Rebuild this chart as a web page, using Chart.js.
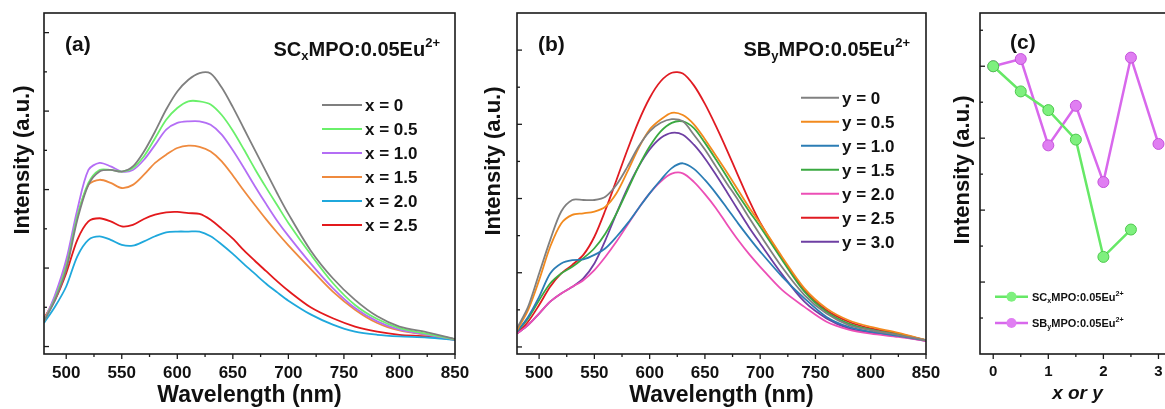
<!DOCTYPE html>
<html>
<head>
<meta charset="utf-8">
<script src="https://cdn.jsdelivr.net/npm/chart.js@4.4.0/dist/chart.umd.min.js"></script>
<style>
  html, body { margin: 0; padding: 0; overflow: hidden; background: #fff; width: 1165px; height: 409px; }
  canvas { position: absolute; top: 0; }
</style>
</head>
<body>
<canvas id="chartA" width="490" height="409" style="left:0"></canvas>
<canvas id="chartB" width="490" height="409" style="left:470px"></canvas>
<canvas id="chartC" width="260" height="409" style="left:940px"></canvas>
<script>
// wavelength grid (nm), shared by (a) and (b)
const wavelength = [480,490,500,510,520,530,540,550,560,570,580,590,600,610,620,630,640,650,660,670,680,690,700,720,740,760,780,800,825,850];

// (a) SCxMPO:0.05Eu2+
const aLabels = ['x = 0', 'x = 0.5', 'x = 1.0', 'x = 1.5', 'x = 2.0', 'x = 2.5'];
const aColors = ['#7f7f7f', '#6af06a', '#b46ef5', '#ef8a3e', '#1fa8dc', '#e3191c'];
const aX0  = [0.64,1.19,1.96,3.23,4.12,4.46,4.5,4.46,4.59,4.97,5.48,6.04,6.5,6.8,6.97,6.96,6.6,6.1,5.55,5.0,4.45,3.9,3.38,2.45,1.74,1.19,0.77,0.51,0.36,0.19];
const aX05 = [0.64,1.23,2.04,3.32,4.17,4.5,4.5,4.46,4.55,4.85,5.31,5.78,6.08,6.25,6.25,6.17,5.9,5.5,5.02,4.52,4.05,3.6,3.15,2.35,1.62,1.06,0.7,0.47,0.32,0.19];
const aX10 = [0.64,1.32,2.21,3.49,4.5,4.68,4.59,4.46,4.5,4.76,5.14,5.53,5.7,5.74,5.74,5.65,5.4,5.0,4.55,4.08,3.63,3.2,2.82,2.12,1.49,0.98,0.64,0.43,0.3,0.19];
const aX15 = [0.68,1.28,2.13,3.32,4.12,4.25,4.17,4.04,4.12,4.38,4.68,4.89,5.06,5.12,5.09,4.97,4.72,4.36,3.97,3.6,3.24,2.9,2.58,1.98,1.4,0.94,0.6,0.41,0.3,0.19];
const aX20 = [0.6,1.02,1.53,2.3,2.72,2.81,2.72,2.59,2.57,2.68,2.81,2.91,2.93,2.93,2.93,2.81,2.6,2.36,2.1,1.85,1.6,1.38,1.17,0.82,0.56,0.38,0.3,0.26,0.23,0.17];
const aX25 = [0.72,1.19,1.87,2.72,3.19,3.27,3.19,3.06,3.1,3.25,3.36,3.42,3.43,3.4,3.38,3.23,3.0,2.75,2.45,2.18,1.92,1.66,1.42,1.0,0.72,0.51,0.38,0.3,0.26,0.17];

// (b) SByMPO:0.05Eu2+
const bLabels = ['y = 0', 'y = 0.5', 'y = 1.0', 'y = 1.5', 'y = 2.0', 'y = 2.5', 'y = 3.0'];
const bColors = ['#808080', '#f28a1e', '#2b7db5', '#3aa940', '#ec4fb6', '#e01b22', '#6e3fa3'];
const bY0  = [0.5,1.08,1.98,2.88,3.65,3.96,3.96,3.96,4.05,4.37,4.86,5.4,5.81,6.04,6.14,6.08,5.72,5.32,4.86,4.4,3.96,3.48,3.02,2.14,1.4,0.9,0.59,0.45,0.32,0.18];
const bY05 = [0.45,0.99,1.8,2.7,3.33,3.56,3.6,3.65,3.78,4.14,4.73,5.36,5.86,6.13,6.31,6.25,6.0,5.6,5.15,4.7,4.23,3.76,3.33,2.42,1.58,1.04,0.72,0.54,0.38,0.18];
const bY10 = [0.41,0.81,1.35,1.98,2.25,2.34,2.36,2.48,2.66,2.97,3.33,3.74,4.14,4.5,4.82,4.95,4.8,4.5,4.14,3.74,3.33,2.94,2.57,1.89,1.31,0.81,0.54,0.41,0.3,0.18];
const bY15 = [0.41,0.77,1.26,1.71,1.98,2.16,2.39,2.66,3.06,3.6,4.23,4.86,5.4,5.81,6.04,6.08,5.9,5.5,5.05,4.58,4.1,3.66,3.24,2.34,1.49,0.95,0.63,0.47,0.34,0.18];
const bY20 = [0.36,0.59,0.9,1.22,1.44,1.62,1.8,2.07,2.43,2.84,3.29,3.74,4.14,4.46,4.67,4.68,4.45,4.12,3.74,3.3,2.88,2.5,2.16,1.53,1.08,0.68,0.47,0.36,0.27,0.16];
const bY25 = [0.36,0.68,1.13,1.62,1.98,2.21,2.48,2.97,3.69,4.5,5.32,6.08,6.71,7.16,7.39,7.37,7.05,6.55,5.95,5.3,4.62,3.95,3.35,2.38,1.53,0.99,0.68,0.5,0.36,0.18];
const bY30 = [0.36,0.59,0.9,1.22,1.44,1.62,1.85,2.25,2.88,3.6,4.28,4.86,5.32,5.63,5.77,5.72,5.45,5.08,4.64,4.17,3.69,3.22,2.79,1.95,1.22,0.77,0.5,0.38,0.29,0.16];

// (c) relative intensity vs x or y
const cXvals = [0, 0.5, 1, 1.5, 2, 2.5];
const cSC = [4.0, 3.65, 3.39, 2.98, 1.35, 1.73];
const cYvals = [0, 0.5, 1, 1.5, 2, 2.5, 3];
const cSB = [4.0, 4.1, 2.9, 3.45, 2.39, 4.12, 2.92];

// tick values
const xTicksAB = [500, 550, 600, 650, 700, 750, 800, 850];
const xMinorAB = [525, 575, 625, 675, 725, 775, 825];
const yMajorAB = [0, 2, 4, 6, 8];
const yMinorAB = [1, 3, 5, 7];
const xTicksC = [0, 1, 2, 3];
const xMinorC = [0.5, 1.5, 2.5];
const yMajorC = [1, 2, 3, 4];
const yMinorC = [0.5, 1.5, 2.5, 3.5, 4.5];

const FONT = "'Liberation Sans', Arial, sans-serif";

// text with _x subscript and ^2+ superscript
function drawRich(ctx, text, x, y, size, align) {
  const segs = [];
  let buf = '';
  for (let i = 0; i < text.length; i++) {
    const c = text[i];
    if (c === '_') {
      if (buf) segs.push({ t: buf, k: 0 });
      buf = '';
      segs.push({ t: text[i + 1], k: 1 });
      i++;
    } else if (c === '^') {
      if (buf) segs.push({ t: buf, k: 0 });
      buf = '';
      segs.push({ t: text.slice(i + 1), k: -1 });
      break;
    } else {
      buf += c;
    }
  }
  if (buf) segs.push({ t: buf, k: 0 });
  let total = 0;
  segs.forEach(s => {
    s.size = s.k ? size * 0.65 : size;
    ctx.font = `bold ${s.size}px ${FONT}`;
    s.w = ctx.measureText(s.t).width;
    total += s.w;
  });
  let cx = align === 'right' ? x - total : x;
  ctx.textAlign = 'left';
  ctx.textBaseline = 'alphabetic';
  segs.forEach(s => {
    ctx.font = `bold ${s.size}px ${FONT}`;
    const dy = s.k === 1 ? size * 0.22 : s.k === -1 ? -size * 0.42 : 0;
    ctx.fillText(s.t, cx, y + dy);
    cx += s.w;
  });
}

// frame, inward/outward ticks, y title, panel tag, heading and legend
const decor = {
  id: 'decor',
  afterDraw(chart, args, o) {
    const { ctx, chartArea: a } = chart;
    const xs = chart.scales.x, ys = chart.scales.y;
    ctx.save();
    ctx.strokeStyle = '#1a1a1a';
    ctx.fillStyle = '#111';
    ctx.lineWidth = 1.6;
    ctx.strokeRect(a.left, a.top, a.right - a.left, a.bottom - a.top);
    ctx.lineWidth = 1.3;
    const seg = (x1, y1, x2, y2) => { ctx.beginPath(); ctx.moveTo(x1, y1); ctx.lineTo(x2, y2); ctx.stroke(); };
    o.xMajor.forEach(v => { const p = xs.getPixelForValue(v); seg(p, a.bottom, p, a.bottom + 5); });
    o.xMinor.forEach(v => { const p = xs.getPixelForValue(v); seg(p, a.bottom, p, a.bottom + 3); });
    o.yMajor.forEach(v => { const p = ys.getPixelForValue(v); seg(a.left, p, a.left + 5, p); });
    o.yMinor.forEach(v => { const p = ys.getPixelForValue(v); seg(a.left, p, a.left + 3, p); });

    // y axis title
    ctx.save();
    ctx.translate(o.yTitleX, o.yTitleY);
    ctx.rotate(-Math.PI / 2);
    ctx.font = `bold 22px ${FONT}`;
    ctx.textAlign = 'center';
    ctx.textBaseline = 'middle';
    ctx.fillText('Intensity (a.u.)', 0, 0);
    ctx.restore();

    // panel tag
    ctx.font = `bold 21px ${FONT}`;
    ctx.textAlign = 'left';
    ctx.textBaseline = 'alphabetic';
    ctx.fillText(o.tag, o.tagX, o.tagY);
    if (o.heading) drawRich(ctx, o.heading, o.headX, o.headY, 20, 'right');

    // legend
    const lg = o.legend;
    chart.data.datasets.forEach((ds, i) => {
      const y = lg.y + i * lg.dy;
      ctx.strokeStyle = ds.borderColor;
      ctx.lineWidth = lg.lw;
      seg(lg.x, y, lg.x + lg.len, y);
      if (lg.marker) {
        ctx.beginPath();
        ctx.arc(lg.x + lg.len / 2, y, 5, 0, Math.PI * 2);
        ctx.fillStyle = ds.pointBackgroundColor;
        ctx.fill();
      }
      ctx.fillStyle = '#111';
      drawRich(ctx, ds.label, lg.x + lg.len + lg.gap, y + lg.size * 0.36, lg.size, 'left');
    });
    ctx.restore();
  }
};

const toPts = (xs, ys) => xs.map((x, i) => ({ x: x, y: ys[i] }));

function spectrumChart(id, labels, colors, series, yMax, padLeft, padRight, deco) {
  return new Chart(document.getElementById(id), {
    type: 'line',
    data: {
      datasets: series.map((s, i) => ({
        label: labels[i],
        data: toPts(wavelength, s),
        borderColor: colors[i],
        borderWidth: 1.8,
        pointRadius: 0,
        fill: false,
        tension: 0.3
      }))
    },
    options: {
      responsive: false,
      animation: false,
      events: [],
      layout: { padding: { left: padLeft, right: padRight, top: 13, bottom: 0 } },
      scales: {
        x: {
          type: 'linear', min: 480, max: 850,
          afterBuildTicks: s => { s.ticks = xTicksAB.map(v => ({ value: v })); },
          afterFit: s => { s.height = 55; },
          grid: { display: false, drawTicks: false },
          border: { display: false },
          ticks: { color: '#111', padding: 9, maxRotation: 0, autoSkip: false,
                   font: { family: FONT, size: 17, weight: 'bold' } },
          title: { display: true, text: 'Wavelength (nm)', color: '#111', padding: { top: 0, bottom: 2 },
                   font: { family: FONT, size: 23, weight: 'bold', lineHeight: 1 } }
        },
        y: { display: false, min: -0.19, max: yMax }
      },
      plugins: { legend: { display: false }, tooltip: { enabled: false }, decor: deco }
    },
    plugins: [decor]
  });
}

spectrumChart('chartA', aLabels, aColors, [aX0, aX05, aX10, aX15, aX20, aX25], 8.5, 44, 35, {
  xMajor: xTicksAB, xMinor: xMinorAB, yMajor: yMajorAB, yMinor: yMinorAB,
  yTitleX: 23, yTitleY: 160,
  tag: '(a)', tagX: 65, tagY: 51,
  heading: 'SC_xMPO:0.05Eu^2+', headX: 440, headY: 55.5,
  legend: { x: 322, y: 105, dy: 24, len: 40, gap: 3, lw: 2, size: 17 }
});

spectrumChart('chartB', bLabels, bColors, [bY0, bY05, bY10, bY15, bY20, bY25, bY30], 9.0, 47, 34, {
  xMajor: xTicksAB, xMinor: xMinorAB, yMajor: yMajorAB, yMinor: yMinorAB,
  yTitleX: 24, yTitleY: 161,
  tag: '(b)', tagX: 68, tagY: 51,
  heading: 'SB_yMPO:0.05Eu^2+', headX: 440, headY: 55.5,
  legend: { x: 331, y: 97.7, dy: 24, len: 38, gap: 3, lw: 2, size: 17 }
});

new Chart(document.getElementById('chartC'), {
  type: 'line',
  data: {
    datasets: [
      { label: 'SC_xMPO:0.05Eu^2+', data: toPts(cXvals, cSC), borderColor: '#66e866', borderWidth: 2.5,
        pointRadius: 5.5, pointBackgroundColor: '#7ef07e', pointBorderColor: '#4cc94c', pointBorderWidth: 1 },
      { label: 'SB_yMPO:0.05Eu^2+', data: toPts(cYvals, cSB), borderColor: '#d868ec', borderWidth: 2.5,
        pointRadius: 5.5, pointBackgroundColor: '#e07ef2', pointBorderColor: '#c452da', pointBorderWidth: 1 }
    ]
  },
  options: {
    responsive: false,
    animation: false,
    events: [],
    layout: { padding: { left: 40, right: 25, top: 13, bottom: 0 } },
    scales: {
      x: {
        type: 'linear', min: -0.24, max: 3.3,
        afterBuildTicks: s => { s.ticks = xTicksC.map(v => ({ value: v })); },
        afterFit: s => { s.height = 55; },
        grid: { display: false, drawTicks: false },
        border: { display: false },
        ticks: { color: '#111', padding: 9, maxRotation: 0, autoSkip: false,
                 font: { family: FONT, size: 15, weight: 'bold' } },
        title: { display: true, text: 'x or y', color: '#111', padding: { top: 0, bottom: 6 },
                 font: { family: FONT, size: 19, weight: 'bold', style: 'italic', lineHeight: 1 } }
      },
      y: { display: false, min: 0, max: 4.74 }
    },
    plugins: {
      legend: { display: false }, tooltip: { enabled: false },
      decor: {
        xMajor: xTicksC, xMinor: xMinorC, yMajor: yMajorC, yMinor: yMinorC,
        yTitleX: 23, yTitleY: 170,
        tag: '(c)', tagX: 70, tagY: 49,
        legend: { x: 55, y: 296.7, dy: 26.3, len: 33, gap: 4, lw: 2.5, size: 11, marker: true }
      }
    }
  },
  plugins: [decor]
});
</script>
</body>
</html>
